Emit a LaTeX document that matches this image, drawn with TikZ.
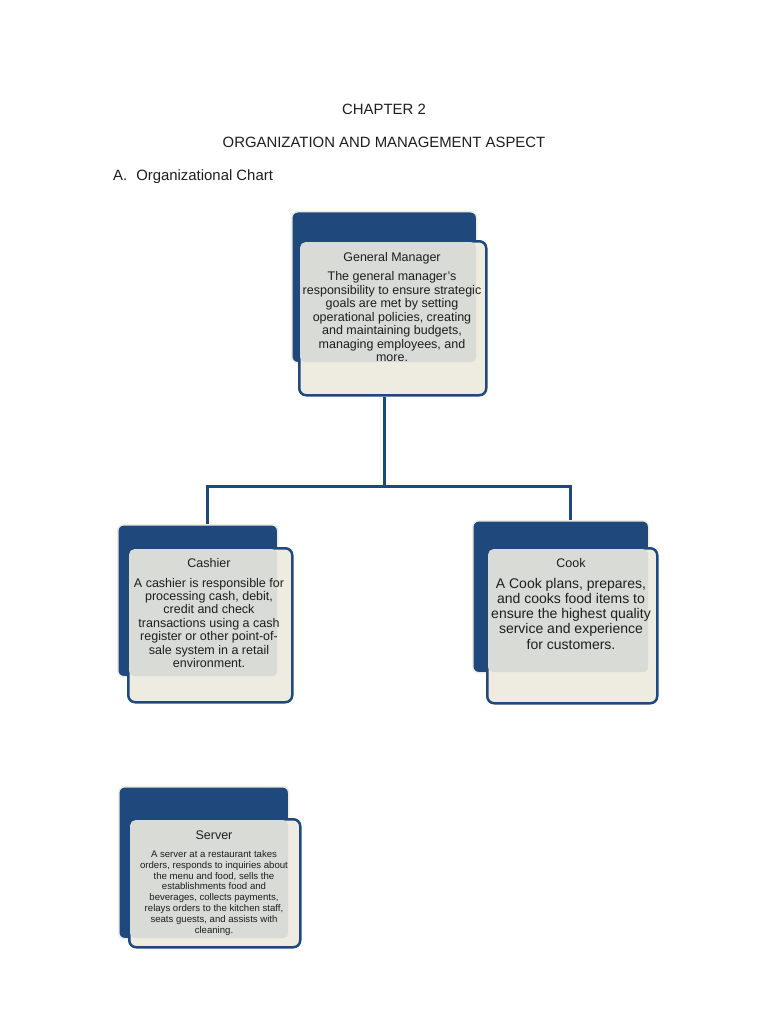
\documentclass[tikz,border=0pt]{standalone}
\usepackage{fontspec}
\setmainfont{Liberation Sans}
\definecolor{navy}{RGB}{31,73,125}
\definecolor{cream}{RGB}{238,236,225}
\definecolor{greybox}{RGB}{217,219,215}
\definecolor{ink}{RGB}{30,30,30}
\tikzset{
  backbox/.style={draw=cream, line width=1.5pt, fill=navy, rounded corners=6pt, inner sep=0pt, anchor=north west},
  frontbox/.style={draw=navy, line width=2.5pt, fill=cream, rounded corners=7pt, inner sep=0pt, anchor=north west},
  textbox/.style={draw=none, fill=greybox, rounded corners=5pt, inner sep=0pt, anchor=north west},
  conn/.style={draw=navy, line width=3pt},
  head/.style={font=\fontsize{14.9}{17}\selectfont, text=ink, inner sep=0pt, anchor=base},
  ttl/.style={font=\fontsize{12.5}{14}\selectfont, text=ink, inner sep=0pt, anchor=base},
  body/.style={text=ink, inner sep=0pt, anchor=base, align=center},
}
\begin{document}
\begin{tikzpicture}[x=1pt,y=-1pt]
\useasboundingbox[fill=white] (0,0) rectangle (768,1024);
% header
\node[head] (h1) at (384,115) {CHAPTER 2};
\node[head] (h2) at (384,148) {ORGANIZATION AND MANAGEMENT ASPECT};
\node[head, anchor=base west] (h3) at (113,181) {A.\hspace{9pt}Organizational Chart};

% General Manager
\node[backbox, minimum width=185pt, minimum height=151pt] (gmback) at (291,211) {};
\node[frontbox, minimum width=187pt, minimum height=154pt] (gmfront) at (298,240) {};
\node[textbox, minimum width=176pt, minimum height=120pt] (gmtext) at (300,242) {};
\node[ttl] (gmtitle) at (392,261.5) {General Manager};
\node[body, font=\fontsize{12.5}{13.5}\selectfont] (gmbody) at (392,361.5) {The general manager's\\responsibility to ensure strategic\\goals are met by setting\\operational policies, creating\\and maintaining budgets,\\managing employees, and\\more.};

% Cashier
\node[backbox, minimum width=160pt, minimum height=152pt] (caback) at (117,524) {};
\node[frontbox, minimum width=164pt, minimum height=154pt] (cafront) at (127,547) {};
\node[textbox, minimum width=148pt, minimum height=127pt] (catext) at (129,549) {};
\node[ttl] (catitle) at (209,567.5) {Cashier};
\node[body, font=\fontsize{12.5}{13.4}\selectfont] (cabody) at (209,667.5) {A cashier is responsible for\\processing cash, debit,\\credit and check\\transactions using a cash\\register or other point-of-\\sale system in a retail\\environment.};

% Cook
\node[backbox, minimum width=176pt, minimum height=152pt] (coback) at (472,520) {};
\node[frontbox, minimum width=170pt, minimum height=155pt] (cofront) at (486,547) {};
\node[textbox, minimum width=160pt, minimum height=123pt] (cotext) at (488,549) {};
\node[ttl] (cotitle) at (571,567.5) {Cook};
\node[body, font=\fontsize{14}{15.2}\selectfont] (cobody) at (571,649) {A Cook plans, prepares,\\and cooks food items to\\ensure the highest quality\\service and experience\\for customers.};

% Server
\node[backbox, minimum width=170pt, minimum height=152pt] (seback) at (118,786) {};
\node[frontbox, minimum width=171pt, minimum height=128pt] (sefront) at (128,818) {};
\node[textbox, minimum width=158pt, minimum height=118pt] (setext) at (130,820) {};
\node[ttl] (setitle) at (214,839.5) {Server};
\node[body, font=\fontsize{9.6}{10.9}\selectfont] (sebody) at (214,933.5) {A server at a restaurant takes\\orders, responds to inquiries about\\the menu and food, sells the\\establishments food and\\beverages, collects payments,\\relays orders to the kitchen staff,\\seats guests, and assists with\\cleaning.};

% connectors
\coordinate (bus) at (384,486);
\coordinate (cadrop) at (207,486);
\coordinate (codrop) at (570,486);
\draw[conn] (bus |- gmfront.south) -- (bus);
\draw[conn, line cap=rect] (cadrop) -- (codrop);
\draw[conn] (cadrop) -- (cadrop |- caback.north);
\draw[conn] (codrop) -- (codrop |- coback.north);
\end{tikzpicture}
\end{document}
